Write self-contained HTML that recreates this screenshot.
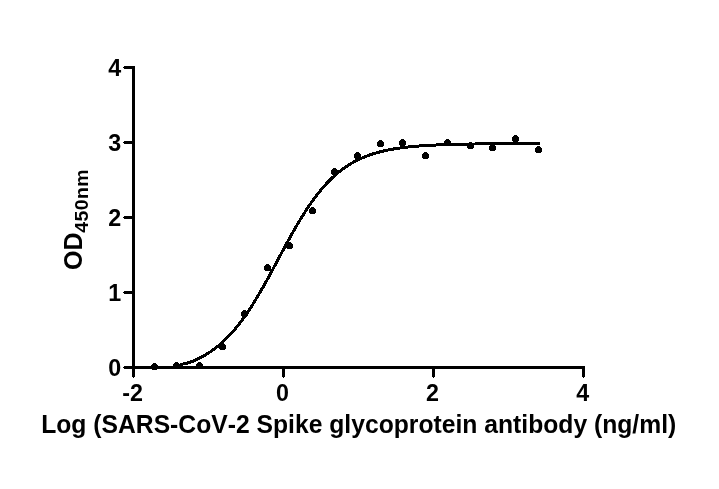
<!DOCTYPE html>
<html><head><meta charset="utf-8"><title>chart</title>
<style>
html,body{margin:0;padding:0;background:#fff;}
svg{display:block;}
text{font-kerning:none;font-family:"Liberation Sans",Arial,sans-serif;font-weight:bold;fill:#000;}
</style></head><body>
<svg width="719" height="489" viewBox="0 0 719 489">
<rect width="719" height="489" fill="#fff"/>
<g fill="#000" shape-rendering="crispEdges">
<polygon points="132,66 135,66 135,376.2 133.5,377.8 132,376.2"/>
<polygon points="585,366 585,369 124.4,369 122.8,367.5 124.4,366"/>
<polygon points="133,66 133,69 124.4,69 122.8,67.5 124.4,66"/>
<polygon points="133,141 133,144 124.4,144 122.8,142.5 124.4,141"/>
<polygon points="133,216 133,219 124.4,219 122.8,217.5 124.4,216"/>
<polygon points="133,291 133,294 124.4,294 122.8,292.5 124.4,291"/>
<polygon points="282,368 285,368 285,376.2 283.5,377.8 282,376.2"/>
<polygon points="432,368 435,368 435,376.2 433.5,377.8 432,376.2"/>
<polygon points="582,368 585,368 585,376.2 583.5,377.8 582,376.2"/>
</g>
<path d="M180.0,364.64 L181.0,364.45 L182.0,364.25 L183.0,364.04 L184.0,363.82 L185.0,363.59 L186.0,363.36 L187.0,363.11 L188.0,362.85 L189.0,362.58 L190.0,362.30 L191.0,361.91 L192.0,361.51 L193.0,361.10 L194.0,360.67 L195.0,360.23 L196.0,359.78 L197.0,359.32 L198.0,358.84 L199.0,358.35 L200.0,357.85 L201.0,357.33 L202.0,356.80 L203.0,356.25 L204.0,355.69 L205.0,355.12 L206.0,354.52 L207.0,353.91 L208.0,353.29 L209.0,352.65 L210.0,351.99 L211.0,351.31 L212.0,350.62 L213.0,349.90 L214.0,349.17 L215.0,348.43 L216.0,347.66 L217.0,346.87 L218.0,346.06 L219.0,345.24 L220.0,344.39 L221.0,343.52 L222.0,342.63 L223.0,341.73 L224.0,340.80 L225.0,339.84 L226.0,338.87 L227.0,337.87 L228.0,336.86 L229.0,335.82 L230.0,334.75 L231.0,333.67 L232.0,332.56 L233.0,331.43 L234.0,330.28 L235.0,329.10 L236.0,327.90 L237.0,326.67 L238.0,325.43 L239.0,324.16 L240.0,322.86 L241.0,321.54 L242.0,320.20 L243.0,318.84 L244.0,317.45 L245.0,316.04 L246.0,314.61 L247.0,313.16 L248.0,311.68 L249.0,310.18 L250.0,308.66 L251.0,307.12 L252.0,305.56 L253.0,303.98 L254.0,302.38 L255.0,300.75 L256.0,299.11 L257.0,297.46 L258.0,295.78 L259.0,294.08 L260.0,292.37 L261.0,290.65 L262.0,288.90 L263.0,287.15 L264.0,285.38 L265.0,283.59 L266.0,281.80 L267.0,279.99 L268.0,278.17 L269.0,276.35 L270.0,274.51 L271.0,272.67 L272.0,270.82 L273.0,268.96 L274.0,267.10 L275.0,265.23 L276.0,263.36 L277.0,261.49 L278.0,259.62 L279.0,257.75 L280.0,255.88 L281.0,254.01 L282.0,252.14 L283.0,250.27 L284.0,248.42 L285.0,246.56 L286.0,244.72 L287.0,242.88 L288.0,241.04 L289.0,239.22 L290.0,237.41 L291.0,235.61 L292.0,233.82 L293.0,232.05 L294.0,230.29 L295.0,228.54 L296.0,226.80 L297.0,225.09 L298.0,223.39 L299.0,221.70 L300.0,220.03 L301.0,218.39 L302.0,216.76 L303.0,215.15 L304.0,213.56 L305.0,211.99 L306.0,210.44 L307.0,208.91 L308.0,207.40 L309.0,205.92 L310.0,204.45 L311.0,203.01 L312.0,201.59 L313.0,200.20 L314.0,198.82 L315.0,197.47 L316.0,196.15 L317.0,194.84 L318.0,193.56 L319.0,192.31 L320.0,191.07 L321.0,189.86 L322.0,188.67 L323.0,187.51 L324.0,186.37 L325.0,185.25 L326.0,184.16 L327.0,183.09 L328.0,182.04 L329.0,181.01 L330.0,180.01 L331.0,179.02 L332.0,178.06 L333.0,177.12 L334.0,176.21 L335.0,175.31 L336.0,174.43 L337.0,173.58 L338.0,172.74 L339.0,171.93 L340.0,171.13 L341.0,170.36 L342.0,169.60 L343.0,168.86 L344.0,168.14 L345.0,167.44 L346.0,166.76 L347.0,166.09 L348.0,165.44 L349.0,164.81 L350.0,164.19 L351.0,163.60 L352.0,163.01 L353.0,162.44 L354.0,161.89 L355.0,161.35 L356.0,160.83 L357.0,160.32 L358.0,159.82 L359.0,159.34 L360.0,158.87 L361.0,158.42 L362.0,157.98 L363.0,157.55 L364.0,157.13 L365.0,156.72 L366.0,156.33 L367.0,155.94 L368.0,155.57 L369.0,155.21 L370.0,154.86 L371.0,154.51 L372.0,154.18 L373.0,153.86 L374.0,153.55 L375.0,153.24 L376.0,152.95 L377.0,152.66 L378.0,152.38 L379.0,152.12 L380.0,151.85 L381.0,151.60 L382.0,151.35 L383.0,151.11 L384.0,150.88 L385.0,150.66 L386.0,150.44 L387.0,150.23 L388.0,150.02 L389.0,149.82 L390.0,149.63 L391.0,149.44 L392.0,149.26 L393.0,149.09 L394.0,148.92 L395.0,148.75 L396.0,148.59 L397.0,148.43 L398.0,148.28 L399.0,148.14 L400.0,148.00 L401.0,147.86 L402.0,147.72 L403.0,147.60 L404.0,147.47 L405.0,147.35 L406.0,147.23 L407.0,147.12 L408.0,147.01 L409.0,146.90 L410.0,146.80 L411.0,146.70 L412.0,146.60 L413.0,146.51 L414.0,146.41 L415.0,146.33 L416.0,146.24 L417.0,146.16 L418.0,146.08 L419.0,146.00 L420.0,145.92 L421.0,145.85 L422.0,145.78 L423.0,145.71 L424.0,145.64 L425.0,145.58 L426.0,145.52 L427.0,145.46 L428.0,145.40 L429.0,145.34 L430.0,145.29 L431.0,145.23 L432.0,145.18 L433.0,145.13 L434.0,145.08 L435.0,145.04 L436.0,144.99 L437.0,144.95 L438.0,144.91 L439.0,144.86 L440.0,144.82 L441.0,144.79 L442.0,144.75 L443.0,144.71 L444.0,144.68 L445.0,144.64 L446.0,144.61 L447.0,144.58 L448.0,144.55 L449.0,144.52 L450.0,144.49 L451.0,144.46 L452.0,144.43 L453.0,144.41 L454.0,144.38 L455.0,144.36 L456.0,144.33 L457.0,144.31 L458.0,144.29 L459.0,144.27 L460.0,144.24 L461.0,144.22 L462.0,144.20 L463.0,144.19 L464.0,144.17 L465.0,144.15 L466.0,144.13 L467.0,144.12 L468.0,144.10 L469.0,144.08 L470.0,144.07 L471.0,144.05 L472.0,144.04 L473.0,144.03 L474.0,144.01 L475.0,144.00 L476.0,143.99 L477.0,143.97 L478.0,143.96 L479.0,143.95 L480.0,143.94 L481.0,143.93 L482.0,143.92 L483.0,143.91 L484.0,143.90 L485.0,143.89 L486.0,143.88 L487.0,143.87 L488.0,143.86 L489.0,143.86 L490.0,143.85 L491.0,143.84 L492.0,143.83 L493.0,143.83 L494.0,143.82 L495.0,143.81 L496.0,143.81 L497.0,143.80 L498.0,143.79 L499.0,143.79 L500.0,143.78 L501.0,143.78 L502.0,143.77 L503.0,143.76 L504.0,143.76 L505.0,143.75 L506.0,143.75 L507.0,143.75 L508.0,143.74 L509.0,143.74 L510.0,143.73 L511.0,143.73 L512.0,143.72 L513.0,143.72 L514.0,143.72 L515.0,143.71 L516.0,143.71 L517.0,143.71 L518.0,143.70 L519.0,143.70 L520.0,143.70 L521.0,143.69 L522.0,143.69 L523.0,143.69 L524.0,143.69 L525.0,143.68 L526.0,143.68 L527.0,143.68 L528.0,143.68 L529.0,143.67 L530.0,143.67 L531.0,143.67 L532.0,143.67 L533.0,143.67 L534.0,143.66 L535.0,143.66 L536.0,143.66 L537.0,143.66 L538.0,143.66 L539.0,143.66 L540.0,143.65" fill="none" stroke="#000" stroke-width="3" stroke-linejoin="round" shape-rendering="crispEdges"/>
<g fill="#000" shape-rendering="crispEdges">
<circle cx="154.5" cy="366.5" r="3.5"/>
<circle cx="176.5" cy="365.5" r="3.5"/>
<circle cx="199.5" cy="365.5" r="3.5"/>
<circle cx="222.5" cy="346.5" r="3.5"/>
<circle cx="244.5" cy="313.5" r="3.5"/>
<circle cx="267.5" cy="267.5" r="3.5"/>
<circle cx="289.5" cy="245.5" r="3.5"/>
<circle cx="312.5" cy="210.5" r="3.5"/>
<circle cx="334.5" cy="171.5" r="3.5"/>
<circle cx="357.5" cy="155.5" r="3.5"/>
<circle cx="380.5" cy="143.5" r="3.5"/>
<circle cx="402.5" cy="142.5" r="3.5"/>
<circle cx="425.5" cy="155.5" r="3.5"/>
<circle cx="447.5" cy="142.5" r="3.5"/>
<circle cx="470.5" cy="145.5" r="3.5"/>
<circle cx="492.5" cy="147.5" r="3.5"/>
<circle cx="515.5" cy="138.5" r="3.5"/>
<circle cx="538.5" cy="149.5" r="3.5"/>
</g>
<g font-size="23.3" text-anchor="end">
<text transform="translate(121.2,75.7) scale(1,1.04)">4</text>
<text transform="translate(121.2,150.7) scale(1,1.04)">3</text>
<text transform="translate(121.2,225.7) scale(1,1.04)">2</text>
<text transform="translate(121.2,300.7) scale(1,1.04)">1</text>
<text transform="translate(121.2,375.7) scale(1,1.04)">0</text>
</g>
<g font-size="23.3" text-anchor="middle">
<text transform="translate(132.5,400.8) scale(1,1.04)">-2</text>
<text transform="translate(282.5,400.8) scale(1,1.04)">0</text>
<text transform="translate(432.5,400.8) scale(1,1.04)">2</text>
<text transform="translate(582.7,400.8) scale(1,1.04)">4</text>
</g>
<text transform="translate(41.2,433) scale(1,1.04)" font-size="24.7">Log (SARS-CoV-2 Spike glycoprotein antibody (ng/ml)</text>
<text transform="translate(82.2,270) rotate(-90) scale(1,1.04)" font-size="25">OD</text>
<text transform="translate(88.3,232.8) rotate(-90) scale(1,0.95)" font-size="19.5" letter-spacing="0.4">450nm</text>
</svg>
</body></html>
